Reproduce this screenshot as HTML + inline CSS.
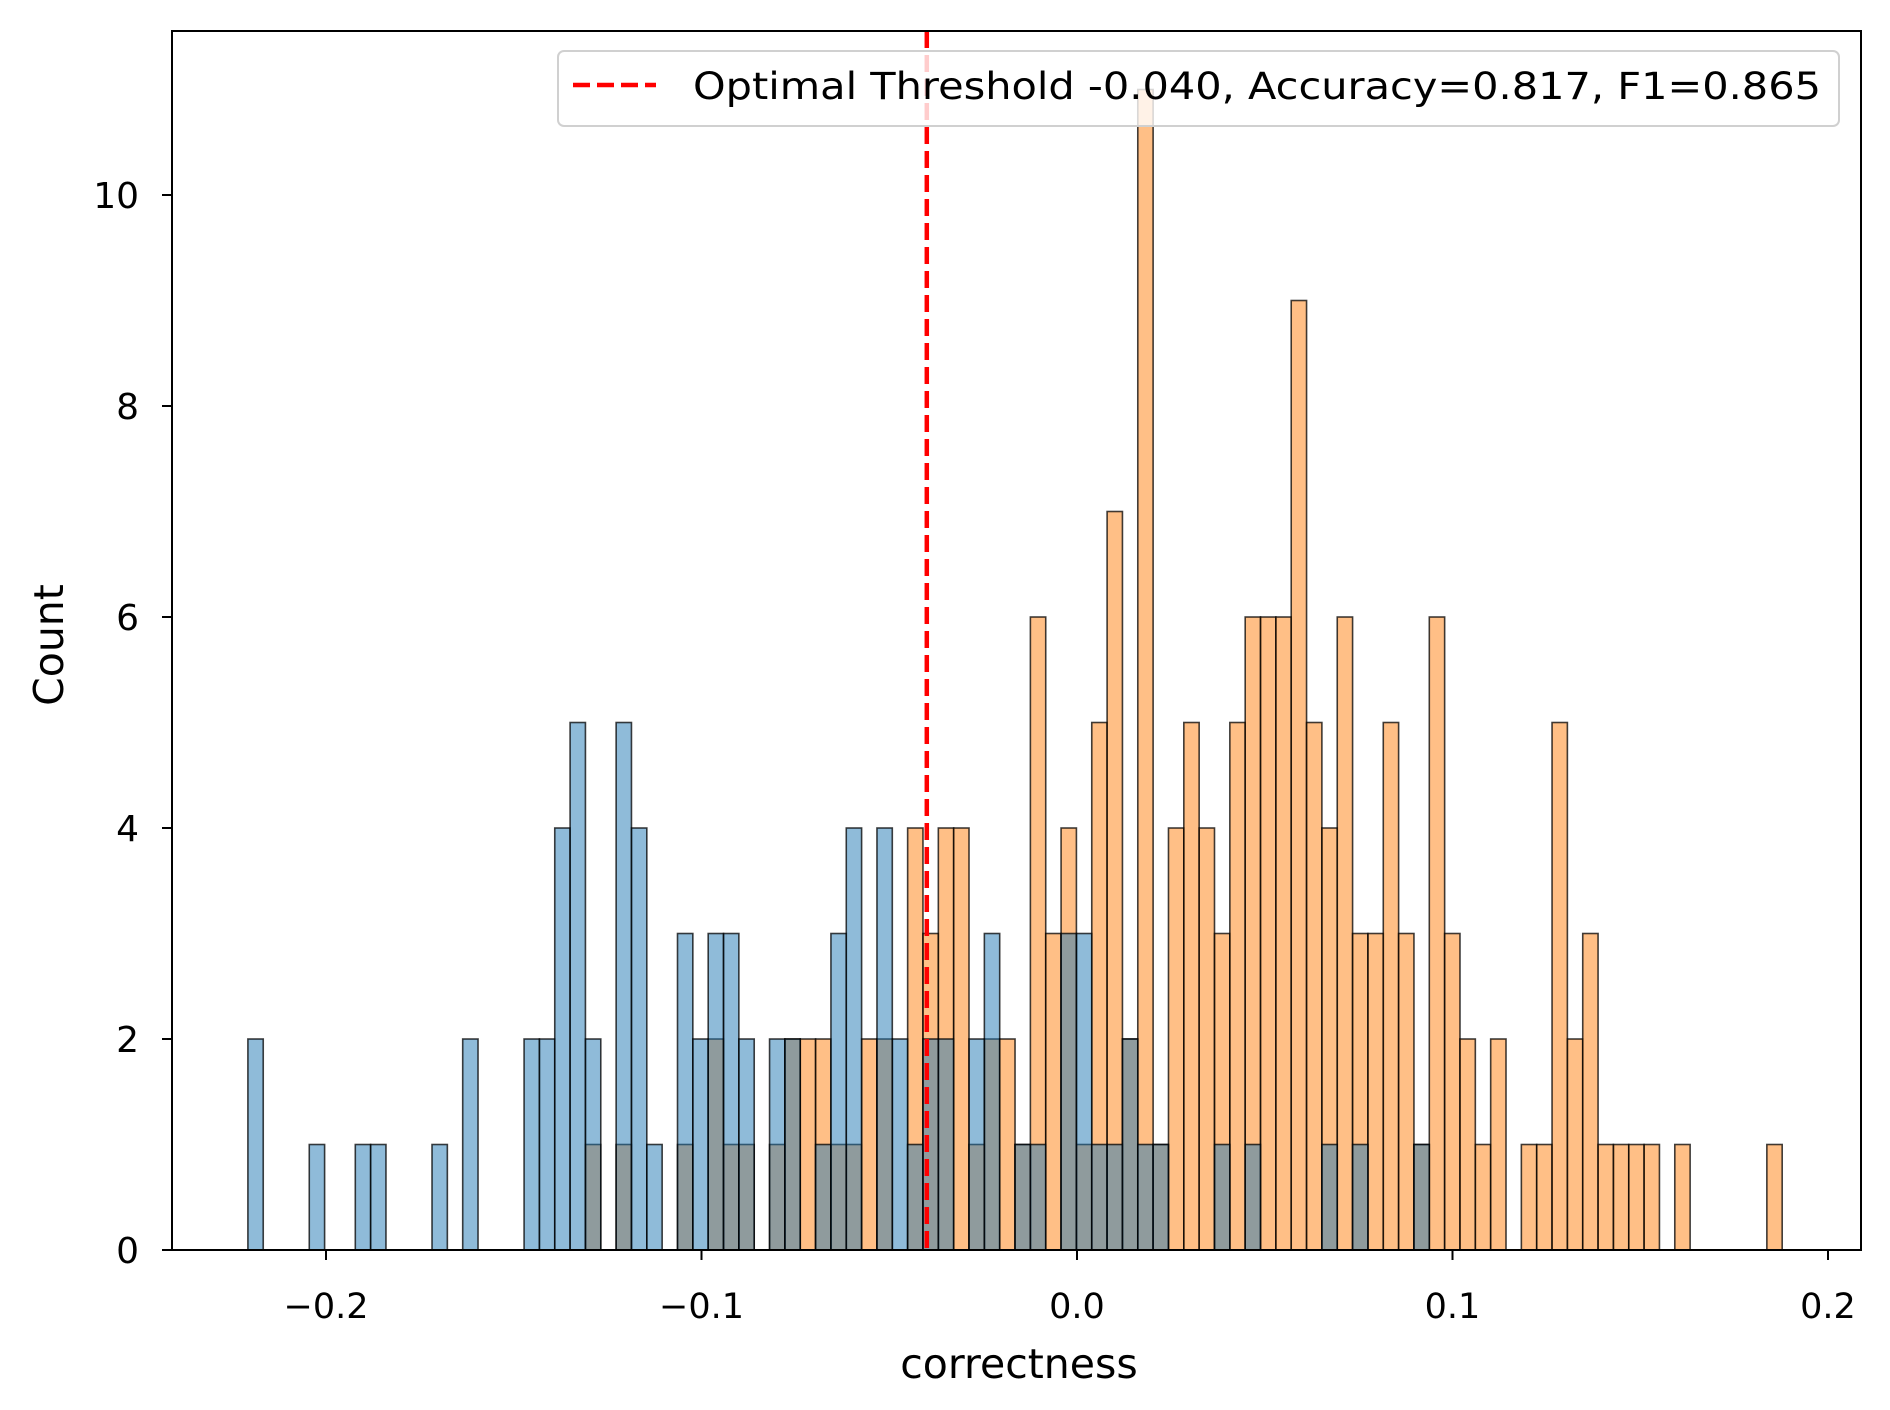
<!DOCTYPE html>
<html><head><meta charset="utf-8">
<style>
html,body{margin:0;padding:0;background:#fff;}
svg{display:block;font-family:"DejaVu Sans","Liberation Sans",sans-serif;}
</style></head>
<body>
<svg id="chart" width="1890" height="1410" viewBox="0 0 1890 1410" xmlns="http://www.w3.org/2000/svg">
<rect x="0" y="0" width="1890" height="1410" fill="#fff"/>
<g id="bars-orange"></g>
<g id="bars-blue"></g>
<g id="axes"></g>
</svg>
<script>
const binStart = -0.2208;
const binWidth = 0.004086;
const blueCounts = [2,0,0,0,1,0,0,1,1,0, 0,0,1,0,2,0,0,0,2,2, 4,5,2,0,5,4,1,0,3,2, 3,3,2,0,2,2,0,1,3,4, 0,4,2,1,2,2,0,2,3,0, 1,1,0,3,3,1,1,2,1,1, 0,0,0,1,0,1,0,0,0,0, 1,0,1,0,0,0,1,0,0,0, 0,0,0,0,0,0,0,0,0,0, 0,0,0,0,0,0,0,0,0,0];
const orangeCounts = [0,0,0,0,0,0,0,0,0,0, 0,0,0,0,0,0,0,0,0,0, 0,0,1,0,1,0,0,0,1,0, 2,1,1,0,1,2,2,2,1,1, 2,2,0,4,3,4,4,1,2,2, 1,6,3,4,1,5,7,2,11,1, 4,5,4,3,5,6,6,6,9,5, 4,6,3,3,5,3,1,6,3,2, 1,2,0,1,1,5,2,3,1,1, 1,1,0,1,0,0,0,0,0,1];
const xTicks = [-0.2,-0.1,0.0,0.1,0.2];
const xTickLabels = ["\u22120.2","\u22120.1","0.0","0.1","0.2"];
const yTicks = [0,2,4,6,8,10];
const yTickLabels = ["0","2","4","6","8","10"];
const threshold = -0.040;
const legendText = "Optimal Threshold -0.040, Accuracy=0.817, F1=0.865";

const NS = "http://www.w3.org/2000/svg";
const L = 172, R = 1861, T = 31, B = 1250;
const x0 = 1077, xs = 3755;
const ys = 105.5;
function X(v){ return x0 + v * xs; }
function Y(c){ return B - c * ys; }
function mk(tag, attrs, parent){
  const e = document.createElementNS(NS, tag);
  for (const k in attrs) e.setAttribute(k, attrs[k]);
  parent.appendChild(e);
  return e;
}
const gO = document.getElementById('bars-orange');
const gB = document.getElementById('bars-blue');
const gA = document.getElementById('axes');
function drawBars(counts, g, fill, nm){
  counts.forEach((c, i) => {
    if (!c) return;
    const xa = X(binStart + i * binWidth), xb = X(binStart + (i + 1) * binWidth);
    const r = mk('rect', {x: xa, y: Y(c), width: xb - xa, height: Y(0) - Y(c), fill: fill, 'fill-opacity': 0.5, stroke: '#000', 'stroke-opacity': 0.75, 'stroke-width': 1.6}, g);
    
    
  });
}
drawBars(orangeCounts, gO, '#ff7f0e', 'orange');
drawBars(blueCounts, gB, '#1f77b4', 'blue');

const th = mk('line', {x1: X(threshold), x2: X(threshold), y1: T, y2: B, stroke: '#ff0000', 'stroke-width': 4.5, 'stroke-dasharray': '17 7'}, gA);



const fr = mk('rect', {x: L, y: T, width: R - L, height: B - T, fill: 'none', stroke: '#000', 'stroke-width': 2}, gA);



xTicks.forEach((v, i) => {
  const t = mk('line', {x1: X(v), x2: X(v), y1: B, y2: B + 10, stroke: '#000', 'stroke-width': 2}, gA);
  
  
  const tx = mk('text', {x: X(v), y: B + 68, 'font-size': 35, 'text-anchor': 'middle', fill: '#000'}, gA);
  tx.textContent = xTickLabels[i];
  
  
});
yTicks.forEach((v, i) => {
  const t = mk('line', {x1: L - 10, x2: L, y1: Y(v), y2: Y(v), stroke: '#000', 'stroke-width': 2}, gA);
  
  
  const tx = mk('text', {x: L - 33, y: Y(v) + 13, 'font-size': 36, 'text-anchor': 'end', fill: '#000'}, gA);
  tx.textContent = yTickLabels[i];
  
  
});
const xl = mk('text', {x: 1019, y: 1378, 'font-size': 41, 'text-anchor': 'middle', fill: '#000'}, gA);
xl.textContent = 'correctness';


const yl = mk('text', {x: 63, y: 645, 'font-size': 41, 'text-anchor': 'middle', fill: '#000', transform: 'rotate(-90 63 645)'}, gA);
yl.textContent = 'Count';



const lg = mk('g', {}, gA);


const lb = mk('rect', {x: 558, y: 51, width: 1281, height: 75, rx: 6, fill: '#fff', 'fill-opacity': 0.8, stroke: '#d0d0d0', 'stroke-width': 2}, lg);


const ll = mk('line', {x1: 573, x2: 656, y1: 85, y2: 85, stroke: '#ff0000', 'stroke-width': 4.5, 'stroke-dasharray': '17 7'}, lg);


const lt = mk('text', {x: 693, y: 99, 'font-size': 37, fill: '#000', textLength: 1128, lengthAdjust: 'spacingAndGlyphs'}, lg);
lt.textContent = legendText;


</script>
</body></html>
